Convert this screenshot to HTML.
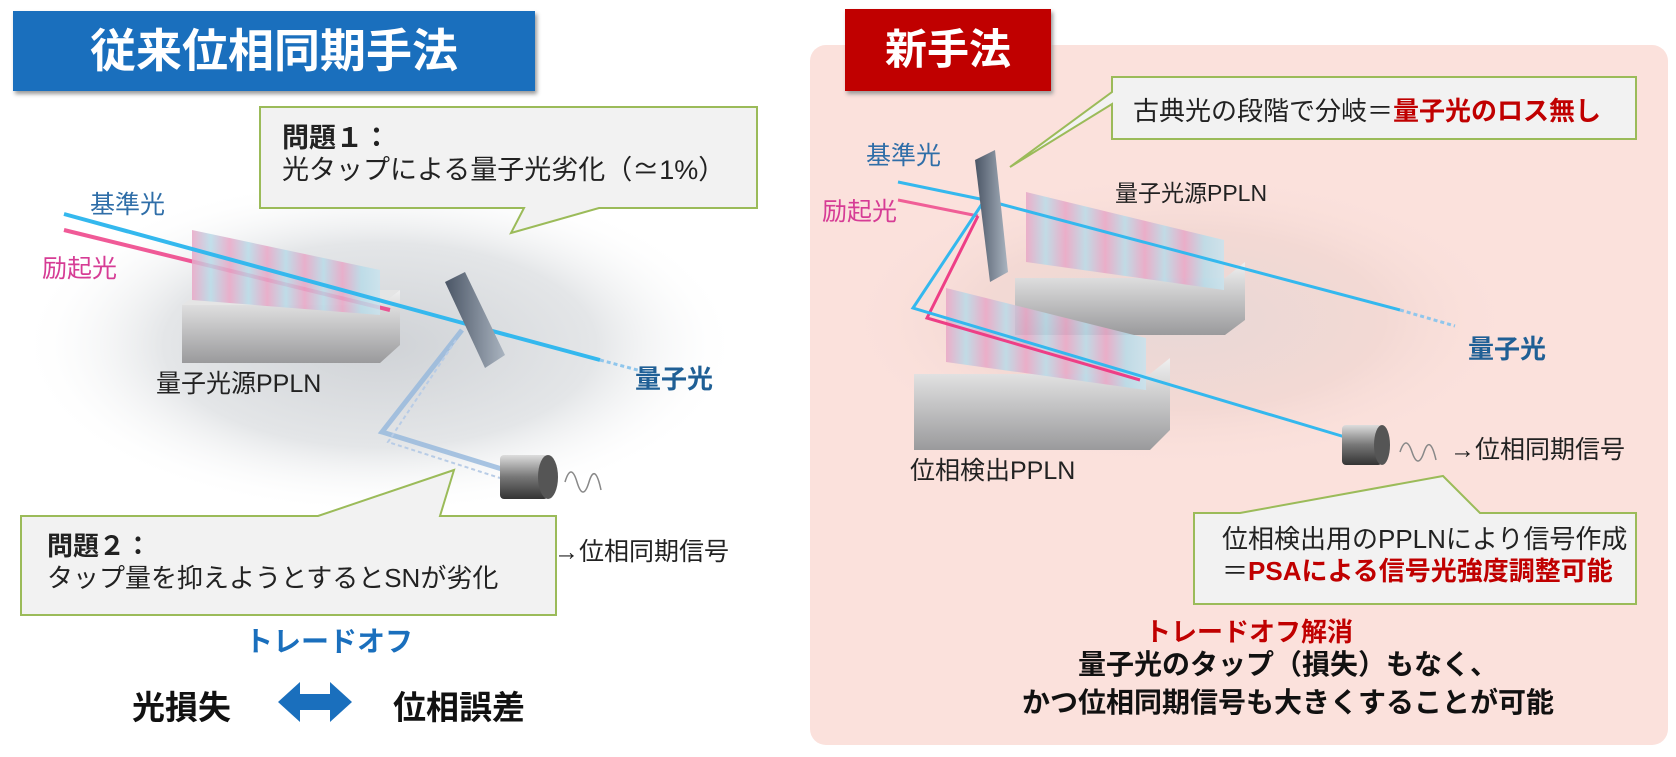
<!DOCTYPE html>
<html><head><meta charset="utf-8"><style>
body{margin:0;width:1676px;height:757px;background:#fff;position:relative;overflow:hidden;font-family:"Liberation Sans","Noto Sans CJK JP",sans-serif;}
.a{position:absolute;white-space:nowrap;}
.b{font-weight:bold;}
</style></head><body>
<svg width="1676" height="757" style="position:absolute;left:0;top:0">
<defs>
<radialGradient id="bg" cx="0.5" cy="0.5" r="0.5"><stop offset="0" stop-color="#cfd2d6"/><stop offset="0.6" stop-color="#e4e6e8"/><stop offset="1" stop-color="#fff" stop-opacity="0"/></radialGradient>
<radialGradient id="bg2" cx="0.5" cy="0.5" r="0.5"><stop offset="0" stop-color="#e8d8d6"/><stop offset="0.6" stop-color="#f3d9d4"/><stop offset="1" stop-color="#fbe1dc" stop-opacity="0"/></radialGradient>
<linearGradient id="cry" x1="0" x2="1"><stop offset="0" stop-color="#e9a6c6"/><stop offset="0.1" stop-color="#b8dbe8"/><stop offset="0.2" stop-color="#e9a6c6"/><stop offset="0.3" stop-color="#b8dbe8"/><stop offset="0.4" stop-color="#e9a6c6"/><stop offset="0.5" stop-color="#b8dbe8"/><stop offset="0.6" stop-color="#e9a6c6"/><stop offset="0.7" stop-color="#b8dbe8"/><stop offset="0.8" stop-color="#e9a6c6"/><stop offset="0.9" stop-color="#b8dbe8"/><stop offset="1" stop-color="#c9e3ee"/></linearGradient>
<linearGradient id="base" x1="0" x2="0" y1="0" y2="1"><stop offset="0" stop-color="#f0f0f0"/><stop offset="1" stop-color="#9a9a9c"/></linearGradient>
<linearGradient id="cyl" x1="0" x2="0" y1="0" y2="1"><stop offset="0" stop-color="#ddd"/><stop offset="0.5" stop-color="#777"/><stop offset="1" stop-color="#333"/></linearGradient>
<linearGradient id="mir" x1="0" x2="1"><stop offset="0" stop-color="#4a5565"/><stop offset="1" stop-color="#aab4c0"/></linearGradient>
</defs>
<rect x="810" y="45" width="858" height="700" rx="16" fill="#fbe1dc"/>
<ellipse cx="380" cy="345" rx="360" ry="170" fill="url(#bg)"/>
<ellipse cx="1180" cy="320" rx="340" ry="150" fill="url(#bg2)"/>

<polygon points="182,305 380,305 400,290 400,345 380,363 182,363" fill="url(#base)"/>
<polygon points="182,305 202,290 400,290 380,305" fill="#e5e5e5"/>
<line x1="64" y1="230" x2="390" y2="310" stroke="#ee3e86" stroke-width="4" opacity="0.85"/>
<polygon points="192,230 380,270 380,315 192,300" fill="url(#cry)" opacity="0.85"/>
<line x1="64" y1="214" x2="470" y2="325" stroke="#34b8ee" stroke-width="4"/>
<line x1="470" y1="325" x2="600" y2="360" stroke="#34b8ee" stroke-width="4"/>
<line x1="600" y1="360" x2="660" y2="376" stroke="#8fc6ec" stroke-width="3" stroke-dasharray="4 3"/>
<polyline points="462,330 382,432 505,470" fill="none" stroke="#93b6dc" stroke-width="5" opacity="0.8"/>
<polyline points="456,340 388,442 500,478" fill="none" stroke="#b8cce6" stroke-width="2" stroke-dasharray="4 3"/>
<polygon points="445,282 465,272 505,355 485,368" fill="url(#mir)"/>
<rect x="500" y="455" width="48" height="44" fill="url(#cyl)" rx="4"/>
<ellipse cx="548" cy="477" rx="10" ry="22" fill="#555"/>
<path d="M565,482 q6,-20 12,0 t12,0 t12,8" fill="none" stroke="#888" stroke-width="1.5"/>

<polygon points="1015,278 1225,278 1245,262 1245,320 1225,335 1015,335" fill="url(#base)"/>
<polygon points="1026,192 1224,240 1224,290 1026,262" fill="url(#cry)" opacity="0.85"/>
<polygon points="914,374 1150,374 1170,358 1170,430 1150,450 914,450" fill="url(#base)"/>
<polygon points="946,288 1146,338 1146,390 946,362" fill="url(#cry)" opacity="0.85"/>
<line x1="898" y1="200" x2="978" y2="216" stroke="#ee3e86" stroke-width="3" opacity="0.8"/>
<polyline points="978,216 927,318 1140,380" fill="none" stroke="#ee3e86" stroke-width="3"/>
<line x1="898" y1="182" x2="985" y2="200" stroke="#34b8ee" stroke-width="3"/>
<line x1="985" y1="200" x2="1400" y2="310" stroke="#34b8ee" stroke-width="3"/>
<line x1="1400" y1="310" x2="1455" y2="326" stroke="#8fc6ec" stroke-width="3" stroke-dasharray="4 3"/>
<polyline points="982,204 913,308 1355,440" fill="none" stroke="#34b8ee" stroke-width="3"/>
<polygon points="975,160 995,150 1008,272 990,282" fill="url(#mir)"/>
<rect x="1342" y="425" width="40" height="40" fill="url(#cyl)" rx="4"/>
<ellipse cx="1382" cy="445" rx="8" ry="20" fill="#555"/>
<path d="M1400,452 q6,-18 12,0 t12,0 t12,8" fill="none" stroke="#888" stroke-width="1.5"/>

<path d="M260,107 H757 V208 H599 L511,233 L524,208 H260 Z" fill="#f2f2f2" stroke="#9bbb59" stroke-width="2"/>
<path d="M21,516 H318 L454,470 L440,516 H556 V615 H21 Z" fill="#f2f2f2" stroke="#9bbb59" stroke-width="2"/>
<path d="M1112,77 H1636 V139 H1112 V104 L1010,167 L1112,92 Z" fill="#f2f2f2" stroke="#9bbb59" stroke-width="2"/>
<path d="M1194,513 H1240 L1443,476 L1480,513 H1636 V604 H1194 Z" fill="#f2f2f2" stroke="#9bbb59" stroke-width="2"/>
<polygon points="278,702 300,682 300,694 330,694 330,682 352,702 330,722 330,710 300,710 300,722" fill="#1a6fbd"/>
</svg>

<div class="a b" style="left:13px;top:11px;width:522px;height:80px;background:#1a6fbd;color:#fff;font-size:46px;line-height:80px;text-align:center;box-shadow:2px 3px 4px #999">従来位相同期手法</div>
<div class="a b" style="left:845px;top:9px;width:206px;height:82px;background:#c00000;color:#fff;font-size:42px;line-height:82px;text-align:center;box-shadow:2px 3px 4px #999">新手法</div>

<div class="a" style="left:282px;top:122px;font-size:27px;line-height:32px;color:#222"><b>問題１：</b><br>光タップによる量子光劣化（≃1%）</div>
<div class="a" style="left:47px;top:530px;font-size:26px;line-height:32px;color:#222"><b>問題２：</b><br>タップ量を抑えようとするとSNが劣化</div>
<div class="a" style="left:90px;top:185px;font-size:25px;color:#2f6ea8">基準光</div>
<div class="a" style="left:42px;top:249px;font-size:25px;color:#d63c95">励起光</div>
<div class="a" style="left:156px;top:364px;font-size:25px;color:#222">量子光源PPLN</div>
<div class="a b" style="left:635px;top:359px;font-size:26px;color:#1f5f95">量子光</div>
<div class="a" style="left:554px;top:532px;font-size:25px;color:#222">→位相同期信号</div>
<div class="a b" style="left:245px;top:620px;font-size:28px;color:#1a6fbd">トレードオフ</div>
<div class="a b" style="left:132px;top:681px;font-size:33px;color:#111">光損失</div>
<div class="a b" style="left:393px;top:681px;font-size:33px;color:#111">位相誤差</div>

<div class="a" style="left:1133px;top:91px;font-size:26px;color:#222">古典光の段階で分岐＝<b style="color:#c00000">量子光のロス無し</b></div>
<div class="a" style="left:866px;top:136px;font-size:25px;color:#2f6ea8">基準光</div>
<div class="a" style="left:822px;top:192px;font-size:25px;color:#d63c95">励起光</div>
<div class="a" style="left:1115px;top:174px;font-size:23px;color:#222">量子光源PPLN</div>
<div class="a" style="left:910px;top:451px;font-size:25px;color:#222">位相検出PPLN</div>
<div class="a b" style="left:1468px;top:329px;font-size:26px;color:#1f5f95">量子光</div>
<div class="a" style="left:1450px;top:430px;font-size:25px;color:#222">→位相同期信号</div>
<div class="a" style="left:1222px;top:523px;font-size:26px;line-height:32px;color:#222">位相検出用のPPLNにより信号作成<br>＝<b style="color:#c00000">PSAによる信号光強度調整可能</b></div>
<div class="a b" style="left:1145px;top:612px;font-size:26px;color:#c00000">トレードオフ解消</div>
<div class="a b" style="left:988px;width:600px;top:646px;font-size:28px;line-height:38px;color:#111;text-align:center">量子光のタップ（損失）もなく、<br>かつ位相同期信号も大きくすることが可能</div>
</body></html>
